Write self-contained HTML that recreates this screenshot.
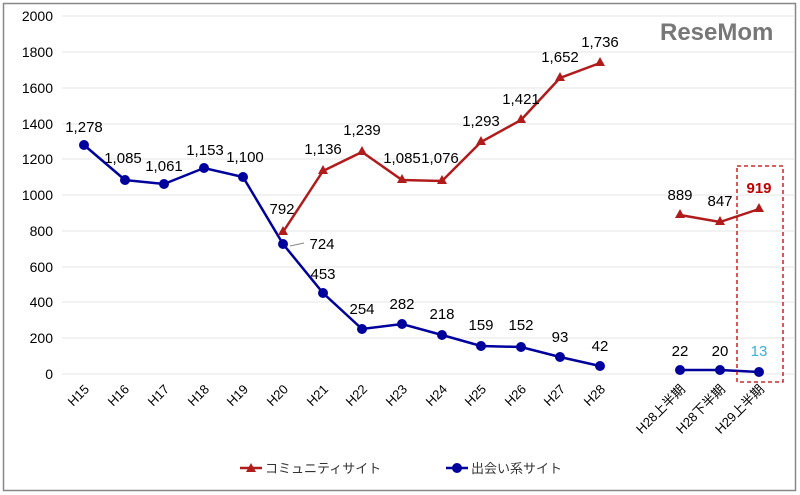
<!DOCTYPE html>
<html><head><meta charset="utf-8"><style>body{margin:0;background:#fff}svg{display:block}text{font-family:"Liberation Sans","Noto Sans CJK JP",sans-serif}</style></head><body>
<svg width="800" height="495" xmlns="http://www.w3.org/2000/svg">
<rect x="3.5" y="3.5" width="792" height="487" fill="#fff" stroke="#888" stroke-width="1.5"/>
<g stroke="#e6e6e6" stroke-width="1">
<line x1="62" x2="795" y1="16" y2="16"/><line x1="62" x2="795" y1="52" y2="52"/><line x1="62" x2="795" y1="88" y2="88"/><line x1="62" x2="795" y1="124" y2="124"/><line x1="62" x2="795" y1="159" y2="159"/><line x1="62" x2="795" y1="195" y2="195"/><line x1="62" x2="795" y1="231" y2="231"/><line x1="62" x2="795" y1="267" y2="267"/><line x1="62" x2="795" y1="302" y2="302"/><line x1="62" x2="795" y1="338" y2="338"/><line x1="62" x2="795" y1="374" y2="374"/>
</g>
<g font-size="14" fill="#000" text-anchor="end">
<text x="53" y="21">2000</text><text x="53" y="57">1800</text><text x="53" y="93">1600</text><text x="53" y="129">1400</text><text x="53" y="164">1200</text><text x="53" y="200">1000</text><text x="53" y="236">800</text><text x="53" y="272">600</text><text x="53" y="307">400</text><text x="53" y="343">200</text><text x="53" y="379">0</text>
</g>
<g font-size="13" fill="#000" text-anchor="end">
<text transform="translate(90,390) rotate(-45)">H15</text><text transform="translate(130,390) rotate(-45)">H16</text><text transform="translate(170,390) rotate(-45)">H17</text><text transform="translate(210,390) rotate(-45)">H18</text><text transform="translate(249,390) rotate(-45)">H19</text><text transform="translate(289,390) rotate(-45)">H20</text><text transform="translate(329,390) rotate(-45)">H21</text><text transform="translate(368,390) rotate(-45)">H22</text><text transform="translate(408,390) rotate(-45)">H23</text><text transform="translate(448,390) rotate(-45)">H24</text><text transform="translate(487,390) rotate(-45)">H25</text><text transform="translate(527,390) rotate(-45)">H26</text><text transform="translate(566,390) rotate(-45)">H27</text><text transform="translate(606,390) rotate(-45)">H28</text>
<text transform="translate(686,390) rotate(-45)">H28上半期</text><text transform="translate(726,390) rotate(-45)">H28下半期</text><text transform="translate(765,390) rotate(-45)">H29上半期</text>
</g>
<polyline fill="none" stroke="#00009c" stroke-width="2.5" points="84,145 125,180 164,184 204,168 243,177 283,244 323,293 362,329 402,324 442,335 481,346 521,347 560,357 600,366"/>
<polyline fill="none" stroke="#00009c" stroke-width="2.5" points="680,370 720,370 759,372"/>
<g fill="#00009c">
<circle cx="84" cy="145" r="5"/><circle cx="125" cy="180" r="5"/><circle cx="164" cy="184" r="5"/><circle cx="204" cy="168" r="5"/><circle cx="243" cy="177" r="5"/><circle cx="283" cy="244" r="5"/><circle cx="323" cy="293" r="5"/><circle cx="362" cy="329" r="5"/><circle cx="402" cy="324" r="5"/><circle cx="442" cy="335" r="5"/><circle cx="481" cy="346" r="5"/><circle cx="521" cy="347" r="5"/><circle cx="560" cy="357" r="5"/><circle cx="600" cy="366" r="5"/><circle cx="680" cy="370" r="5"/><circle cx="720" cy="370" r="5"/><circle cx="759" cy="372" r="5"/>
</g>
<polyline fill="none" stroke="#b01c1c" stroke-width="2.5" points="283,232 323,171 362,152 402,180 442,181 481,142 521,120 560,78 600,63"/>
<polyline fill="none" stroke="#b01c1c" stroke-width="2.5" points="680,215 720,222 759,209"/>
<g fill="#b01c1c">
<path d="M283,226 l5,9 h-10z"/><path d="M323,165 l5,9 h-10z"/><path d="M362,146 l5,9 h-10z"/><path d="M402,174 l5,9 h-10z"/><path d="M442,175 l5,9 h-10z"/><path d="M481,136 l5,9 h-10z"/><path d="M521,114 l5,9 h-10z"/><path d="M560,72 l5,9 h-10z"/><path d="M600,57 l5,9 h-10z"/><path d="M680,209 l5,9 h-10z"/><path d="M720,216 l5,9 h-10z"/><path d="M759,203 l5,9 h-10z"/>
</g>
<line x1="290" y1="246" x2="304" y2="243" stroke="#888" stroke-width="1"/>
<g font-size="15" fill="#000" text-anchor="middle">
<text x="84" y="132">1,278</text><text x="123" y="163">1,085</text><text x="164" y="171">1,061</text><text x="205" y="155">1,153</text><text x="245" y="162">1,100</text><text x="282" y="214">792</text><text x="322" y="249">724</text><text x="323" y="154">1,136</text><text x="362" y="135">1,239</text><text x="402" y="163">1,085</text><text x="440" y="163">1,076</text><text x="481" y="126">1,293</text><text x="521" y="104">1,421</text><text x="560" y="62">1,652</text><text x="600" y="47">1,736</text>
<text x="323" y="279">453</text><text x="362" y="314">254</text><text x="402" y="309">282</text><text x="442" y="319">218</text><text x="481" y="330">159</text><text x="521" y="330">152</text><text x="560" y="342">93</text><text x="600" y="351">42</text>
<text x="680" y="200">889</text><text x="720" y="206">847</text><text x="759" y="193" fill="#c00000" font-weight="bold">919</text>
<text x="680" y="356">22</text><text x="720" y="356">20</text><text x="759" y="356" fill="#3bb0d0">13</text>
</g>
<rect x="737" y="166" width="46" height="216" fill="none" stroke="#c00000" stroke-width="1.3" stroke-dasharray="4,3"/>
<line x1="240" y1="468" x2="262" y2="468" stroke="#b01c1c" stroke-width="2.5"/><path d="M251,463 l5,9 h-10z" fill="#b01c1c"/>
<text x="265" y="473" font-size="13" fill="#333">コミュニティサイト</text>
<line x1="446" y1="468" x2="468" y2="468" stroke="#00009c" stroke-width="2.5"/><circle cx="457" cy="468" r="5" fill="#00009c"/>
<text x="471" y="473" font-size="13" fill="#333">出会い系サイト</text>
<text x="660" y="40" font-size="24" font-weight="bold" fill="#777">ReseMom</text>
</svg>
</body></html>
